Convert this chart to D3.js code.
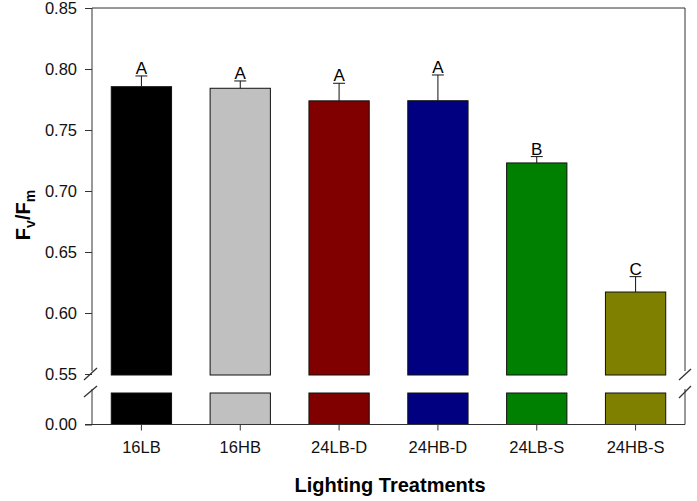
<!DOCTYPE html>
<html>
<head>
<meta charset="utf-8">
<script src="https://cdn.jsdelivr.net/npm/d3@7"></script>
<style>
  body { margin: 0; background: #fff; }
  text { font-family: Arial, "Liberation Sans", sans-serif; }
</style>
</head>
<body>
<div id="chart"></div>
<script>
const treatments = ["16LB", "16HB", "24LB-D", "24HB-D", "24LB-S", "24HB-S"];
const fvfm = [0.7855, 0.7842, 0.7739, 0.7740, 0.7230, 0.6172];
const errors = [0.0088, 0.0060, 0.0144, 0.0211, 0.0052, 0.0126];
const groups = ["A", "A", "A", "A", "B", "C"];
const barColors = ["#000000", "#c0c0c0", "#800000", "#000080", "#008000", "#808000"];
const upperTicks = [0.55, 0.60, 0.65, 0.70, 0.75, 0.80, 0.85];
const lowerTicks = [0.00];

const width = 697;
const height = 501;
const left = 92, right = 685;

const svg = d3.select('#chart')
    .append('svg')
        .attr('width', width)
        .attr('height', height);

const x = d3.scaleBand()
    .domain(treatments)
    .range([left, right])
    .paddingInner(0.39)
    .paddingOuter(0.195);

// two segments of the broken axis
const yTop = d3.scaleLinear().domain([0.55, 0.85]).range([374, 8]);
const yBot = d3.scaleLinear().domain([0, 0.05]).range([424.5, 393]);

// bars, upper part
svg.selectAll('.bar-top')
    .data(treatments)
    .join('rect')
        .attr('class', 'bar-top')
        .attr('x', d => x(d))
        .attr('width', x.bandwidth())
        .attr('y', (d, i) => yTop(fvfm[i]))
        .attr('height', (d, i) => yTop(0.55) + 1 - yTop(fvfm[i]))
        .attr('fill', (d, i) => barColors[i])
        .attr('stroke', '#111')
        .attr('stroke-width', 1);

// bars, lower part
svg.selectAll('.bar-bot')
    .data(treatments)
    .join('rect')
        .attr('class', 'bar-bot')
        .attr('x', d => x(d))
        .attr('width', x.bandwidth())
        .attr('y', yBot(0.05))
        .attr('height', yBot(0) - yBot(0.05))
        .attr('fill', (d, i) => barColors[i])
        .attr('stroke', '#111')
        .attr('stroke-width', 1);

// error bars (upper only)
const errG = svg.selectAll('.err')
    .data(treatments)
    .join('g')
        .attr('class', 'err')
        .attr('stroke', '#111')
        .attr('stroke-width', 1);

errG.append('line')
    .attr('x1', d => x(d) + x.bandwidth() / 2)
    .attr('x2', d => x(d) + x.bandwidth() / 2)
    .attr('y1', (d, i) => yTop(fvfm[i]))
    .attr('y2', (d, i) => yTop(fvfm[i] + errors[i]));

errG.append('line')
    .attr('x1', d => x(d) + x.bandwidth() / 2 - 6)
    .attr('x2', d => x(d) + x.bandwidth() / 2 + 6)
    .attr('y1', (d, i) => yTop(fvfm[i] + errors[i]))
    .attr('y2', (d, i) => yTop(fvfm[i] + errors[i]));

// significance letters
svg.selectAll('.sig')
    .data(treatments)
    .join('text')
        .attr('class', 'sig')
        .attr('x', d => x(d) + x.bandwidth() / 2)
        .attr('y', (d, i) => yTop(fvfm[i] + errors[i]) - 2)
        .attr('text-anchor', 'middle')
        .attr('font-size', 17)
        .text((d, i) => groups[i]);

// y axes
const axisTop = svg.append('g')
    .attr('transform', `translate(${left},0)`)
    .call(d3.axisLeft(yTop).tickValues(upperTicks).tickFormat(d3.format('.2f')).tickSize(7).tickPadding(8));
const axisBot = svg.append('g')
    .attr('transform', `translate(${left},0)`)
    .call(d3.axisLeft(yBot).tickValues(lowerTicks).tickFormat(d3.format('.2f')).tickSize(7).tickPadding(8));
[axisTop, axisBot].forEach(a => {
    a.select('.domain').remove();
    a.selectAll('text').attr('font-size', 16.5).attr('fill', '#111');
    a.selectAll('line').attr('stroke', '#333');
});

// x axis
const axisX = svg.append('g')
    .attr('transform', `translate(0,${yBot(0)})`)
    .call(d3.axisBottom(x).tickSize(6).tickPadding(11));
axisX.select('.domain').remove();
axisX.selectAll('text').attr('font-size', 16.5).attr('fill', '#111');
axisX.selectAll('line').attr('stroke', '#333');

// frame with breaks
const frame = svg.append('g').attr('stroke', '#333').attr('stroke-width', 1).attr('fill', 'none');
frame.append('line').attr('x1', left).attr('x2', right).attr('y1', yTop(0.85)).attr('y2', yTop(0.85));
frame.append('line').attr('x1', left - 7).attr('x2', right).attr('y1', yBot(0)).attr('y2', yBot(0));
[left, right].forEach(px => {
    frame.append('line').attr('x1', px).attr('x2', px).attr('y1', yTop(0.85)).attr('y2', 371);
    frame.append('line').attr('x1', px).attr('x2', px).attr('y1', 389).attr('y2', yBot(0));
});

// break marks
const slashes = [
    [left - 8, 380, left + 5, 368], [left - 8, 397, left + 5, 386],
    [right - 6, 380, right + 6, 369], [right - 6, 398, right + 6, 386]
];
frame.selectAll('.slash')
    .data(slashes)
    .join('line')
        .attr('class', 'slash')
        .attr('x1', d => d[0]).attr('y1', d => d[1])
        .attr('x2', d => d[2]).attr('y2', d => d[3])
        .attr('stroke-width', 1.3);

// axis titles
const yTitle = svg.append('text')
    .attr('transform', 'translate(30,215) rotate(-90)')
    .attr('text-anchor', 'middle')
    .attr('font-size', 20)
    .attr('font-weight', 'bold');
yTitle.append('tspan').text('F');
yTitle.append('tspan').attr('font-size', 14).attr('dy', 5).text('v');
yTitle.append('tspan').attr('dy', -5).text('/F');
yTitle.append('tspan').attr('font-size', 14).attr('dy', 5).text('m');

svg.append('text')
    .attr('x', 390)
    .attr('y', 492)
    .attr('text-anchor', 'middle')
    .attr('font-size', 20)
    .attr('font-weight', 'bold')
    .text('Lighting Treatments');
</script>
</body>
</html>
